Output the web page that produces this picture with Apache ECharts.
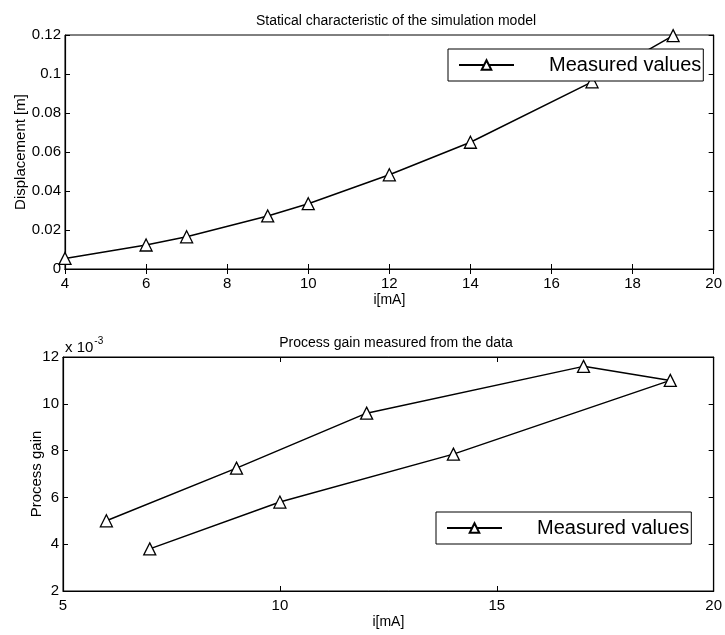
<!DOCTYPE html>
<html lang="en">
<head>
<meta charset="utf-8" />
<style>
  html, body { margin: 0; padding: 0; background: #fff; }
  .box { width: 725px; height: 635px; }
</style>
</head>
<body>
<div class="box"></div>
<script src="https://cdn.jsdelivr.net/npm/echarts@6/dist/echarts.min.js"></script>
<script>
(function () {
  var chart = echarts.init(document.querySelector('.box'));

  // top plot: displacement vs current
  var currentTop = [4, 6, 7, 9, 10, 12, 14, 17, 19];
  var displacement = [0.0054, 0.0123, 0.0165, 0.0272, 0.0335, 0.0483, 0.065, 0.096, 0.1197];

  // bottom plot: process gain (x 10^-3), in measurement order
  var currentBottom = [6, 9, 12, 17, 19, 14, 10, 7];
  var gain = [5.0, 7.25, 9.6, 11.6, 11.0, 7.85, 5.8, 3.8];

  var titles = ['Statical characteristic of the simulation model', 'Process gain measured from the data'];
  var seriesName = 'Measured values';

  var font = 'Liberation Sans, Arial, sans-serif';

  function pairs(xs, ys) {
    var out = [];
    for (var i = 0; i < xs.length; i++) out.push([xs[i], ys[i]]);
    return out;
  }

  function mainX(grid, min, max, step) {
    return {
      type: 'value', gridIndex: grid, min: min, max: max, interval: step,
      name: 'i[mA]', nameLocation: 'middle', nameGap: 24, nameMoveOverlap: false,
      nameTextStyle: { color: '#000', fontSize: 14, fontFamily: font },
      axisLine: { show: true, lineStyle: { color: '#000', width: 1.2 } },
      axisTick: { show: true, inside: true, length: 5, lineStyle: { color: '#000' } },
      axisLabel: { color: '#000', fontSize: 15, fontFamily: font, margin: 7 },
      splitLine: { show: false }
    };
  }
  function mirrorX(grid, min, max, step) {
    return {
      type: 'value', gridIndex: grid, position: 'top', min: min, max: max, interval: step,
      axisLine: { show: true, lineStyle: { color: '#000', width: 1.2 } },
      axisTick: { show: true, inside: true, length: 5, lineStyle: { color: '#000' } },
      axisLabel: { show: false }, splitLine: { show: false }
    };
  }
  function mainY(grid, min, max, step, name, gap) {
    return {
      type: 'value', gridIndex: grid, min: min, max: max, interval: step,
      name: name, nameLocation: 'middle', nameGap: gap, nameMoveOverlap: false,
      nameTextStyle: { color: '#000', fontSize: 15, fontFamily: font },
      axisLine: { show: true, lineStyle: { color: '#000', width: 1.2 } },
      axisTick: { show: true, inside: true, length: 5, lineStyle: { color: '#000' } },
      axisLabel: { color: '#000', fontSize: 15, fontFamily: font, margin: 4 },
      splitLine: { show: false }
    };
  }
  function mirrorY(grid, min, max, step) {
    return {
      type: 'value', gridIndex: grid, position: 'right', min: min, max: max, interval: step,
      axisLine: { show: true, lineStyle: { color: '#000', width: 1.2 } },
      axisTick: { show: true, inside: true, length: 5, lineStyle: { color: '#000' } },
      axisLabel: { show: false }, splitLine: { show: false }
    };
  }
  function lineSeries(xi, yi, data) {
    return {
      name: seriesName, type: 'line', xAxisIndex: xi, yAxisIndex: yi, data: data,
      symbol: 'triangle', symbolSize: 12, showSymbol: true,
      lineStyle: { color: '#000', width: 1.5 },
      itemStyle: { color: '#fff', borderColor: '#000', borderWidth: 1.3 },
      animation: false
    };
  }
  function legendAt(left, top) {
    return {
      data: [seriesName], left: left, top: top, orient: 'horizontal',
      backgroundColor: '#fff', borderColor: '#000', borderWidth: 1,
      padding: [6, 2, 6, 10], itemWidth: 55, itemHeight: 12,
      textStyle: { color: '#000', fontSize: 20, fontFamily: font, padding: [0, 0, 0, 30] },
      selectedMode: false
    };
  }
  function titleAt(text, top) {
    return {
      text: text, left: 391, top: top, textAlign: 'center',
      textStyle: { color: '#000', fontSize: 14, fontWeight: 'normal', fontFamily: font }
    };
  }

  var option = {
    backgroundColor: '#fff',
    animation: false,
    title: [titleAt(titles[0], 9), titleAt(titles[1], 331)],
    grid: [
      { left: 65, top: 35, width: 653, height: 234, show: true, borderColor: '#000', borderWidth: 1 },
      { left: 63, top: 357, width: 655, height: 234, show: true, borderColor: '#000', borderWidth: 1 }
    ],
    xAxis: [mainX(0, 4, 20, 2), mirrorX(0, 4, 20, 2), mainX(1, 5, 20, 5), mirrorX(1, 5, 20, 5)],
    yAxis: [
      mainY(0, 0, 0.12, 0.02, 'Displacement [m]', 37),
      mirrorY(0, 0, 0.12, 0.02),
      mainY(1, 2, 12, 2, 'Process gain', 19),
      mirrorY(1, 2, 12, 2)
    ],
    legend: [legendAt(448, 49), legendAt(436, 512)],
    series: [
      lineSeries(0, 0, pairs(currentTop, displacement)),
      lineSeries(2, 2, pairs(currentBottom, gain))
    ],
    graphic: [{
      type: 'text', left: 65, top: 336,
      style: {
        text: '{b|x 10}{s|-3}',
        rich: {
          b: { fontSize: 15, fontFamily: font, fill: '#000', verticalAlign: 'bottom' },
          s: { fontSize: 10, fontFamily: font, fill: '#000', padding: [0, 0, 9, 1] }
        }
      }
    }]
  };

  chart.setOption(option);
})();
</script>
</body>
</html>
